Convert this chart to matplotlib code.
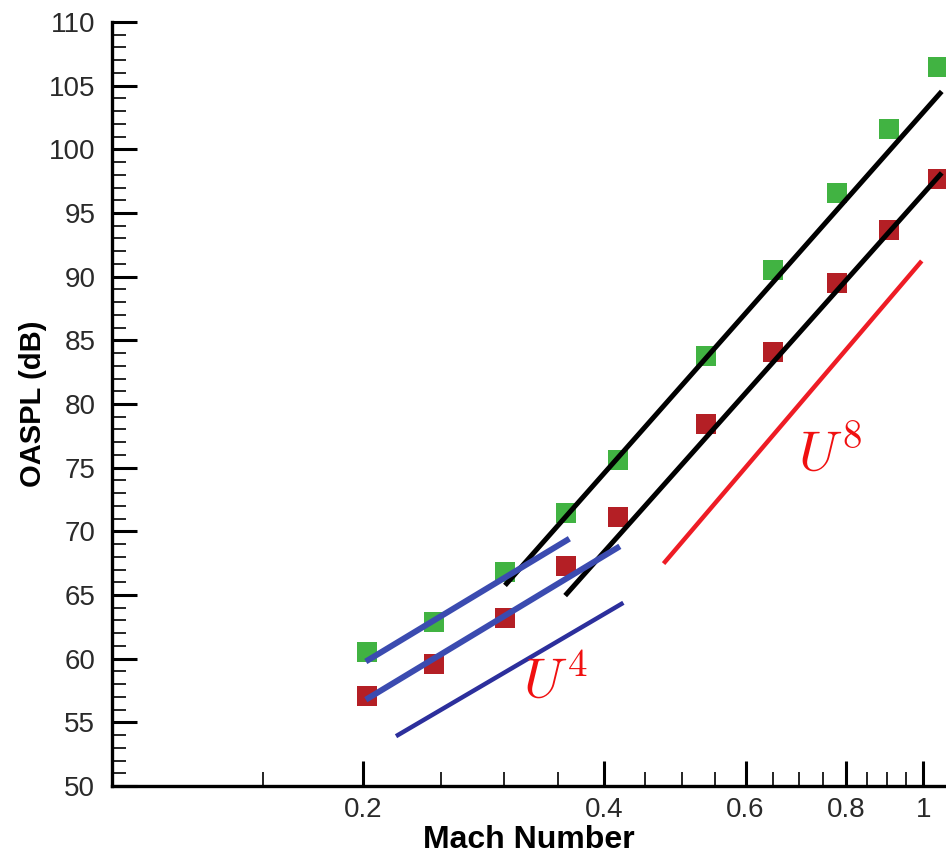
import numpy as np
import matplotlib
matplotlib.use("Agg")
import matplotlib.pyplot as plt
from matplotlib.ticker import FixedLocator, FixedFormatter, NullFormatter

# Data -------------------------------------------------------------------------

mach_green = [0.202, 0.245, 0.301, 0.358, 0.416, 0.535, 0.649, 0.781, 0.905, 1.044]
oaspl_green = [60.5, 62.9, 66.8, 71.4, 75.6, 83.8, 90.5, 96.6, 101.6, 106.5]

mach_red = [0.202, 0.245, 0.301, 0.358, 0.416, 0.535, 0.649, 0.781, 0.905, 1.044]
oaspl_red = [57.1, 59.6, 63.2, 67.3, 71.1, 78.4, 84.1, 89.5, 93.7, 97.7]

# U^8 fits (black) and U^4 fits (blue), end points
fit8_green_x = [0.302, 1.049]
fit8_green_y = [65.9, 104.4]
fit8_red_x = [0.359, 1.049]
fit8_red_y = [65.1, 98.0]

fit4_green_x = [0.203, 0.359]
fit4_green_y = [59.9, 69.3]
fit4_red_x = [0.203, 0.415]
fit4_red_y = [56.9, 68.7]

# reference slopes
ref4_x = [0.221, 0.420]
ref4_y = [54.0, 64.3]
ref8_x = [0.476, 0.991]
ref8_y = [67.6, 91.1]

xticks = [0.2, 0.4, 0.6, 0.8, 1.0]
xtick_labels = ["0.2", "0.4", "0.6", "0.8", "1"]
xminor = [0.15, 0.25, 0.3, 0.35, 0.45, 0.5, 0.55, 0.65, 0.7, 0.75, 0.85, 0.9, 0.95]

# Plot -------------------------------------------------------------------------

plt.rcParams["mathtext.fontset"] = "cm"
plt.rcParams["font.family"] = ["Liberation Sans", "DejaVu Sans"]

fig = plt.figure(figsize=(9.46, 8.55), dpi=100)
ax = fig.add_axes([0.1184, 0.0807, 0.8816, 0.8936])

green = "#41b342"
red = "#b41f25"
blue = "#3b4bb0"

ax.plot(mach_green, oaspl_green, "s", color=green, ms=14.5, mew=0, zorder=2)
ax.plot(mach_red, oaspl_red, "s", color=red, ms=14.5, mew=0, zorder=2)

ax.plot(fit8_green_x, fit8_green_y, color="black", lw=3.6, zorder=3)
ax.plot(fit8_red_x, fit8_red_y, color="black", lw=3.6, zorder=3)
ax.plot(fit4_green_x, fit4_green_y, color=blue, lw=4.3, zorder=4)
ax.plot(fit4_red_x, fit4_red_y, color=blue, lw=4.3, zorder=4)

ax.plot(ref4_x, ref4_y, color="#2c2f9c", lw=3.2, zorder=3)
ax.plot(ref8_x, ref8_y, color="#ee1c25", lw=3.2, zorder=3)

ax.text(0.3166, 56.9, r"$U^4$", color="#f01010", fontsize=40, ha="left", va="baseline")
ax.text(0.698, 74.8, r"$U^8$", color="#f01010", fontsize=40, ha="left", va="baseline")

ax.set_xscale("log")
ax.set_xlim(0.0972, 1.067)
ax.set_ylim(50, 110)

ax.xaxis.set_major_locator(FixedLocator(xticks))
ax.xaxis.set_major_formatter(FixedFormatter(xtick_labels))
ax.xaxis.set_minor_locator(FixedLocator(xminor))
ax.xaxis.set_minor_formatter(NullFormatter())
ax.yaxis.set_major_locator(FixedLocator(np.arange(50, 111, 5)))
ax.yaxis.set_minor_locator(FixedLocator(np.arange(50, 111, 1)))

ax.tick_params(which="major", direction="in", length=18, width=2.2,
               labelsize=20, colors="black", labelcolor="#2a2a2a")
ax.tick_params(axis="y", which="major", pad=12)
ax.tick_params(axis="x", which="major", pad=8)
ax.tick_params(which="minor", direction="in", length=10, width=1.2)

for s in ["top", "right"]:
    ax.spines[s].set_visible(False)
for s in ["left", "bottom"]:
    ax.spines[s].set_linewidth(2.4)

ax.set_xlabel("Mach Number", fontsize=23, fontweight="bold", labelpad=1)
ax.set_ylabel("OASPL (dB)", fontsize=21, fontweight="bold", labelpad=1)

fig.savefig("out.png", dpi=100)
